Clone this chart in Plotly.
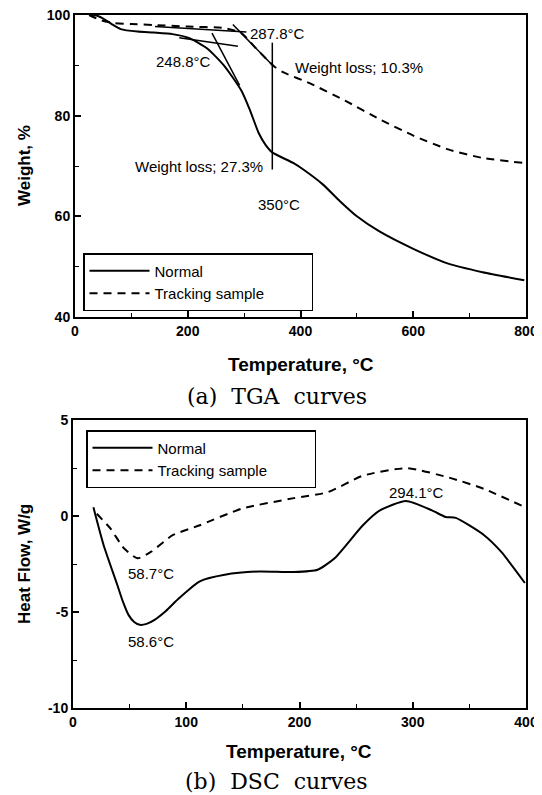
import plotly.graph_objects as go

# target window and the 8px default page margin of the HTML body
W, H = 542, 795
OFF = 8
FW, FH = W - OFF, H - OFF

# ---------------- TGA data (a) ----------------
tga_temp_normal = [25, 38, 50, 65, 81, 111, 140, 173, 203, 234, 264, 295, 310, 326, 338, 350, 387, 405, 440, 470, 500, 540, 601, 662, 723, 797]
tga_wt_normal = [100, 99.9, 99.3, 98.2, 97.2, 96.7, 96.5, 96.2, 95.4, 93.4, 90.0, 85.0, 81.2, 76.5, 74.2, 72.7, 70.6, 69.3, 66.3, 63.0, 60.0, 57.0, 53.5, 50.6, 48.9, 47.3]

tga_temp_track = [25, 45, 69, 100, 142, 200, 264, 295, 320, 340, 353, 368, 417, 479, 540, 601, 662, 723, 797]
tga_wt_track = [100, 99.0, 98.4, 98.2, 98.0, 97.7, 97.4, 96.4, 93.5, 91.2, 89.8, 88.7, 86.4, 83.0, 79.3, 76.0, 73.3, 71.6, 70.6]

# onset tangent construction lines (temperature, weight)
tan_track_base_t = [142, 304]
tan_track_base_w = [97.7, 96.6]
tan_track_steep_t = [280, 353]
tan_track_steep_w = [98.1, 89.7]
tan_norm_base_t = [185, 289]
tan_norm_base_w = [95.5, 93.8]
tan_norm_steep_t = [243, 292]
tan_norm_steep_w = [96.4, 86.0]
mark_350_t = [350, 350]
mark_350_w = [94.5, 69.3]

tga_labels = ["287.8°C", "248.8°C", "Weight loss; 10.3%", "Weight loss; 27.3%", "350°C"]
tga_label_t = [359, 192, 504, 220, 362]
tga_label_w = [96.4, 90.7, 89.6, 69.9, 62.3]

tga_xticks = [0, 200, 400, 600, 800]
tga_yticks = [40, 60, 80, 100]

# ---------------- DSC data (b) ----------------
dsc_temp_normal = [18, 27, 39, 44, 49, 54, 59, 65, 72, 82, 94, 112, 134, 164, 195, 216, 231, 256, 271, 294, 317, 329, 338, 363, 378, 399]
dsc_hf_normal = [0.46, -1.51, -3.57, -4.45, -5.15, -5.52, -5.67, -5.62, -5.41, -4.95, -4.26, -3.40, -3.06, -2.89, -2.92, -2.80, -2.2, -0.48, 0.29, 0.78, 0.29, -0.05, -0.1, -1.0, -1.86, -3.49]

dsc_temp_track = [21, 33, 45, 57, 69, 88, 112, 149, 195, 225, 256, 295, 332, 363, 399]
dsc_hf_track = [0.12, -0.65, -1.68, -2.2, -1.86, -1.0, -0.48, 0.38, 0.93, 1.24, 2.1, 2.49, 2.0, 1.41, 0.46]

dsc_labels = ["294.1°C", "58.7°C", "58.6°C"]
dsc_label_t = [303, 69, 69]
dsc_label_hf = [1.24, -3.02, -6.55]

dsc_xticks = [0, 100, 200, 300, 400]
dsc_yticks = [-10, -5, 0, 5]
dsc_yticktext = ["-10", "-5", "0", "5"]

series_names = ["Normal", "Tracking sample"]

SANS = "Liberation Sans, Arial, sans-serif"
SERIF = "DejaVu Serif, Liberation Serif, serif"
NBSP = "\u00a0"


def fx(px):
    """window pixel x -> paper fraction"""
    return (px - OFF) / FW


def fy(py):
    """window pixel y -> paper fraction"""
    return 1 - (py - OFF) / FH


fig = go.Figure()

solid = dict(color="black", width=2)
dashed = dict(color="black", width=2, dash="8px,6px")
thin = dict(color="black", width=1.5)

# TGA traces
fig.add_trace(go.Scatter(x=tga_temp_normal, y=tga_wt_normal, mode="lines", name=series_names[0],
                         line=dict(shape="spline", smoothing=0.6, **solid), xaxis="x", yaxis="y", legend="legend"))
fig.add_trace(go.Scatter(x=tga_temp_track, y=tga_wt_track, mode="lines", name=series_names[1] + NBSP * 10,
                         line=dict(shape="spline", smoothing=0.6, **dashed), xaxis="x", yaxis="y", legend="legend"))
for tx, wy in [(tan_track_base_t, tan_track_base_w), (tan_track_steep_t, tan_track_steep_w),
               (tan_norm_base_t, tan_norm_base_w), (tan_norm_steep_t, tan_norm_steep_w),
               (mark_350_t, mark_350_w)]:
    fig.add_trace(go.Scatter(x=tx, y=wy, mode="lines", line=thin, showlegend=False,
                             xaxis="x", yaxis="y", hoverinfo="skip"))

# DSC traces
fig.add_trace(go.Scatter(x=dsc_temp_normal, y=dsc_hf_normal, mode="lines", name=series_names[0],
                         line=dict(shape="spline", smoothing=0.6, **solid), xaxis="x2", yaxis="y2", legend="legend2"))
fig.add_trace(go.Scatter(x=dsc_temp_track, y=dsc_hf_track, mode="lines", name=series_names[1] + NBSP * 10,
                         line=dict(shape="spline", smoothing=0.6, **dashed), xaxis="x2", yaxis="y2", legend="legend2"))

tickfont = dict(family=SANS, size=14, color="black", weight="bold")


def axis_common():
    return dict(showline=True, linecolor="black", linewidth=2, mirror=True,
                ticks="inside", ticklen=6, tickwidth=1.5, tickcolor="black", automargin=False,
                ticklabeloverflow="allow",
                showgrid=False, zeroline=False, tickfont=tickfont, fixedrange=True)


top_x = [75, 526]
top_y = [15, 317]
bot_x = [73, 526]
bot_y = [420, 708]

legend_common = dict(xanchor="left", yanchor="top", bordercolor="black", borderwidth=1.5,
                     bgcolor="white", font=dict(family=SANS, size=15, color="black"),
                     itemwidth=60, tracegroupgap=0)

fig.update_layout(
    template="none",
    width=FW, height=FH,
    margin=dict(l=0, r=0, t=0, b=0, pad=0, autoexpand=False),
    paper_bgcolor="white", plot_bgcolor="white",
    font=dict(family=SANS, color="black"),
    xaxis=dict(domain=[fx(top_x[0]), fx(top_x[1])], range=[0, 800], anchor="y",
               tickmode="array", tickvals=tga_xticks,
               minor=dict(dtick=100, ticks="inside", ticklen=4, tickcolor="black", tickwidth=1.2),
               **axis_common()),
    yaxis=dict(domain=[fy(top_y[1]), fy(top_y[0])], range=[40, 100], anchor="x",
               tickmode="array", tickvals=tga_yticks,
               minor=dict(dtick=10, ticks="inside", ticklen=4, tickcolor="black", tickwidth=1.2),
               **axis_common()),
    xaxis2=dict(domain=[fx(bot_x[0]), fx(bot_x[1])], range=[0, 400], anchor="y2",
                tickmode="array", tickvals=dsc_xticks,
                minor=dict(dtick=50, ticks="inside", ticklen=4, tickcolor="black", tickwidth=1.2),
                **axis_common()),
    yaxis2=dict(domain=[fy(bot_y[1]), fy(bot_y[0])], range=[-10, 5], anchor="x2",
                tickmode="array", tickvals=dsc_yticks, ticktext=dsc_yticktext,
                minor=dict(dtick=2.5, ticks="inside", ticklen=4, tickcolor="black", tickwidth=1.2),
                **axis_common()),
    legend=dict(x=fx(83), y=fy(253), **legend_common),
    legend2=dict(x=fx(86), y=fy(430), **legend_common),
    showlegend=True,
)

annos = []
for txt, t, w in zip(tga_labels, tga_label_t, tga_label_w):
    annos.append(dict(text=txt, x=t, y=w, xref="x", yref="y", showarrow=False,
                      font=dict(family=SANS, size=15, color="black")))
for txt, t, w in zip(dsc_labels, dsc_label_t, dsc_label_hf):
    annos.append(dict(text=txt, x=t, y=w, xref="x2", yref="y2", showarrow=False,
                      font=dict(family=SANS, size=15, color="black")))

titlefont = dict(family=SANS, size=19, color="black", weight="bold")
ytitlefont = dict(family=SANS, size=17, color="black", weight="bold")
capfont = dict(family=SERIF, size=22, color="black")

annos += [
    dict(text="Temperature, °C", x=fx((top_x[0] + top_x[1]) / 2), y=fy(364), xref="paper", yref="paper",
         showarrow=False, font=titlefont, xanchor="center", yanchor="middle"),
    dict(text="Weight, %", x=fx(24), y=fy(166), xref="paper", yref="paper", textangle=-90,
         showarrow=False, font=ytitlefont, xanchor="center", yanchor="middle"),
    dict(text="(a)  TGA  curves", x=fx(277), y=fy(396), xref="paper", yref="paper",
         showarrow=False, font=capfont, xanchor="center", yanchor="middle"),
    dict(text="Temperature, °C", x=fx((bot_x[0] + bot_x[1]) / 2), y=fy(751), xref="paper", yref="paper",
         showarrow=False, font=titlefont, xanchor="center", yanchor="middle"),
    dict(text="Heat Flow, W/g", x=fx(24), y=fy(564), xref="paper", yref="paper", textangle=-90,
         showarrow=False, font=ytitlefont, xanchor="center", yanchor="middle"),
    dict(text="(b)  DSC  curves", x=fx(276), y=fy(781), xref="paper", yref="paper",
         showarrow=False, font=capfont, xanchor="center", yanchor="middle"),
]
fig.update_layout(annotations=annos)

fig.write_html("out.html")
